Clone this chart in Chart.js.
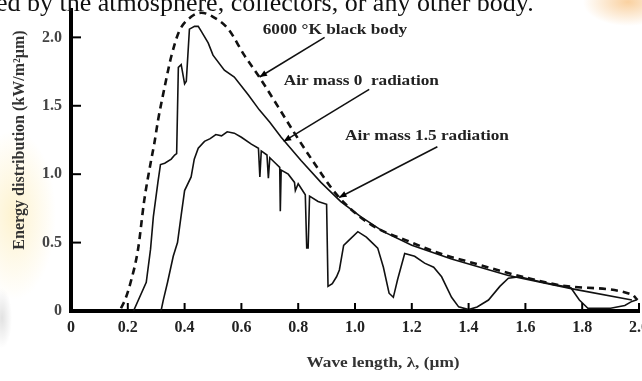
<!DOCTYPE html>
<html>
<head>
<meta charset="utf-8">
<title>Solar spectral irradiance</title>
<script src="https://cdn.jsdelivr.net/npm/chart.js@4.4.1/dist/chart.umd.min.js"></script>
<style>
  html, body { margin: 0; padding: 0; background: #fff; }
  #wrap {
    position: relative; width: 642px; height: 381px; overflow: hidden;
    background:
      radial-gradient(ellipse 45px 24px at 628px 2px, rgba(246,178,96,.6), rgba(246,178,96,0)),
      radial-gradient(ellipse 42px 85px at 14px 215px, rgba(252,228,150,.45), rgba(252,228,150,0)),
      radial-gradient(ellipse 10px 30px at 2px 318px, rgba(190,190,190,.45), rgba(190,190,190,0)),
      #fff;
  }
  #pageText {
    position: absolute; left: -4px; top: -12px;
    font: 26px "Liberation Serif", serif; color: #111; white-space: nowrap;
  }
  canvas { position: absolute; left: 0; top: 0; }
</style>
</head>
<body>
<div id="wrap">
  <canvas id="chart" width="642" height="381"></canvas>
  <div id="pageText">ed by the atmosphere, collectors, or any other body.</div>
</div>
<script>
/* ─── data ─────────────────────────────────────────────────── */
const BB_X = [0.176, 0.19, 0.21, 0.236, 0.258, 0.282, 0.293, 0.307, 0.33, 0.342, 0.353, 0.38, 0.423, 0.459,
              0.50, 0.554, 0.61, 0.663, 0.73, 0.787, 0.847, 0.94, 1.05, 1.20, 1.30, 1.40, 1.59, 1.75, 1.975, 1.995];
const BB_Y = [0.02, 0.08, 0.21, 0.45, 0.81, 1.10, 1.22, 1.40, 1.64, 1.76, 1.86, 2.04, 2.15, 2.18,
              2.15, 2.06, 1.87, 1.71, 1.49, 1.30, 1.11, 0.84, 0.64, 0.50, 0.42, 0.36, 0.25, 0.18, 0.12, 0.08];

const AM0_X = [0.22, 0.265, 0.28, 0.29, 0.306, 0.315, 0.33, 0.353, 0.365, 0.372, 0.378, 0.388, 0.40, 0.406,
               0.417, 0.435, 0.448, 0.46, 0.483, 0.50, 0.54, 0.575, 0.624, 0.663, 0.70, 0.74, 0.81, 0.88,
               0.95, 1.02, 1.10, 1.20, 1.34, 1.54, 1.77, 1.975];
const AM0_Y = [0, 0.21, 0.45, 0.69, 0.94, 1.07, 1.08, 1.11, 1.14, 1.15, 1.78, 1.80, 1.66, 1.68,
               2.06, 2.08, 2.08, 2.04, 1.96, 1.87, 1.76, 1.71, 1.58, 1.47, 1.38, 1.27, 1.10, 0.94,
               0.80, 0.69, 0.58, 0.48, 0.38, 0.26, 0.16, 0.08];

const AM15_X = [0.317, 0.325, 0.34, 0.36, 0.375, 0.388, 0.40, 0.423, 0.434, 0.448, 0.47, 0.49, 0.51, 0.53,
                0.55, 0.575, 0.60, 0.635, 0.66, 0.665, 0.67, 0.69, 0.695, 0.70, 0.72, 0.735, 0.737, 0.74,
                0.765, 0.787, 0.79, 0.80, 0.825, 0.83, 0.835, 0.84, 0.87, 0.90, 0.905, 0.92, 0.935, 0.945,
                0.96, 0.98, 1.01, 1.04, 1.06, 1.08, 1.10, 1.12, 1.135, 1.15, 1.175, 1.21, 1.245, 1.277,
                1.305, 1.34, 1.365, 1.40, 1.43, 1.47, 1.51, 1.54, 1.58, 1.66, 1.76, 1.79, 1.82, 1.90,
                1.95, 1.975, 1.99];
const AM15_Y = [0, 0.08, 0.21, 0.40, 0.50, 0.70, 0.88, 0.98, 1.11, 1.19, 1.24, 1.26, 1.29, 1.28,
                1.31, 1.30, 1.27, 1.22, 1.19, 0.98, 1.17, 1.14, 0.97, 1.12, 1.08, 1.05, 0.73, 1.03,
                1.00, 0.94, 0.88, 0.93, 0.85, 0.46, 0.46, 0.84, 0.80, 0.78, 0.18, 0.20, 0.25, 0.30,
                0.48, 0.52, 0.58, 0.54, 0.50, 0.46, 0.32, 0.13, 0.10, 0.23, 0.42, 0.40, 0.35, 0.32,
                0.25, 0.10, 0.03, 0.01, 0.03, 0.08, 0.18, 0.24, 0.25, 0.21, 0.17, 0.08, 0.02, 0.02,
                0.04, 0.07, 0.08];

const SERIES_LABELS = ['6000 °K black body', 'Air mass 0  radiation', 'Air mass 1.5 radiation'];

const X_TICKS = [0, 0.2, 0.4, 0.6, 0.8, 1.0, 1.2, 1.4, 1.6, 1.8, 2.0];
const X_TICK_LABELS = ['0', '0.2', '0.4', '0.6', '0.8', '1.0', '1.2', '1.4', '1.6', '1.8', '2.0'];
const Y_TICKS = [0, 0.5, 1.0, 1.5, 2.0];
const Y_TICK_LABELS = ['0', '0.5', '1.0', '1.5', '2.0'];

const X_TITLE = 'Wave length, λ, (µm)';
const Y_TITLE = 'Energy distribution (kW/m²µm)';

// label anchors and leader arrows, in data units
const NOTES = [
  { text: SERIES_LABELS[0], x: 0.675, y: 2.05, from: [0.893, 2.00], to: [0.664, 1.71] },
  { text: SERIES_LABELS[1], x: 0.749, y: 1.68, from: [1.05, 1.62],  to: [0.749, 1.24] },
  { text: SERIES_LABELS[2], x: 0.965, y: 1.28, from: [1.29, 1.20],  to: [0.944, 0.83] },
];

const SERIF = '"Liberation Serif", "DejaVu Serif", serif';
const pts = (xs, ys) => xs.map((x, i) => ({ x, y: ys[i] }));

/* ─── extra drawing: inward ticks, labels, arrows, titles ──── */
function stretchedText(ctx, text, x, y, sx) {
  ctx.save();
  ctx.translate(x, y);
  ctx.scale(sx, 1);
  ctx.fillText(text, 0, 0);
  ctx.restore();
}

const decorPlugin = {
  id: 'decor',
  afterDraw(chart) {
    const { ctx, chartArea: ca, scales: { x, y } } = chart;
    ctx.save();
    ctx.strokeStyle = '#000';
    ctx.fillStyle = '#000';
    ctx.lineWidth = 2;

    // tick marks point into the plot
    X_TICKS.forEach(v => {
      if (v === 0) return;
      const px = x.getPixelForValue(v);
      ctx.beginPath(); ctx.moveTo(px, ca.bottom); ctx.lineTo(px, ca.bottom - 8); ctx.stroke();
    });
    Y_TICKS.forEach(v => {
      if (v === 0) return;
      const py = y.getPixelForValue(v);
      ctx.beginPath(); ctx.moveTo(ca.left, py); ctx.lineTo(ca.left + 10, py); ctx.stroke();
    });

    // series labels with leader arrows
    ctx.font = 'bold 15px ' + SERIF;
    ctx.textBaseline = 'middle';
    ctx.textAlign = 'left';
    NOTES.forEach(n => {
      ctx.fillStyle = '#222';
      stretchedText(ctx, n.text, x.getPixelForValue(n.x), y.getPixelForValue(n.y), 1.15);
      const x0 = x.getPixelForValue(n.from[0]), y0 = y.getPixelForValue(n.from[1]);
      const x1 = x.getPixelForValue(n.to[0]),   y1 = y.getPixelForValue(n.to[1]);
      ctx.strokeStyle = '#111'; ctx.lineWidth = 1.6;
      ctx.beginPath(); ctx.moveTo(x0, y0); ctx.lineTo(x1, y1); ctx.stroke();
      const a = Math.atan2(y1 - y0, x1 - x0);
      ctx.fillStyle = '#000';
      ctx.beginPath();
      ctx.moveTo(x1, y1);
      ctx.lineTo(x1 - 8 * Math.cos(a - 0.4), y1 - 8 * Math.sin(a - 0.4));
      ctx.lineTo(x1 - 8 * Math.cos(a + 0.4), y1 - 8 * Math.sin(a + 0.4));
      ctx.closePath(); ctx.fill();
    });

    // axis titles
    ctx.fillStyle = '#333';
    ctx.textAlign = 'center';
    ctx.font = 'bold 15px ' + SERIF;
    stretchedText(ctx, X_TITLE, 383, 363, 1.15);

    ctx.font = 'bold 16px ' + SERIF;
    ctx.save();
    ctx.translate(20, 140);
    ctx.rotate(-Math.PI / 2);
    ctx.fillText(Y_TITLE, 0, 0);
    ctx.restore();

    ctx.restore();
  }
};

/* ─── chart ───────────────────────────────────────────────── */
new Chart(document.getElementById('chart'), {
  type: 'line',
  data: {
    datasets: [
      { label: SERIES_LABELS[0], data: pts(BB_X, BB_Y),
        borderColor: '#111', borderWidth: 2.6, borderDash: [7, 5], cubicInterpolationMode: 'monotone', pointRadius: 0 },
      { label: SERIES_LABELS[1], data: pts(AM0_X, AM0_Y),
        borderColor: '#111', borderWidth: 1.6, tension: 0, pointRadius: 0 },
      { label: SERIES_LABELS[2], data: pts(AM15_X, AM15_Y),
        borderColor: '#111', borderWidth: 1.6, tension: 0, pointRadius: 0 },
    ],
  },
  options: {
    responsive: false, animation: false,
    layout: { autoPadding: false, padding: { top: 10, right: 3, left: 0, bottom: 0 } },
    plugins: { legend: { display: false }, tooltip: { enabled: false } },
    scales: {
      x: {
        type: 'linear', min: 0, max: 2.0,
        grid: { display: false, drawTicks: false },
        border: { display: true, color: '#000', width: 4 },
        afterBuildTicks: s => { s.ticks = X_TICKS.map(v => ({ value: v })); },
        afterFit: s => { s.height = 70; s.paddingLeft = 0; s.paddingRight = 0; },
        ticks: {
          autoSkip: false, maxRotation: 0, padding: 7, color: '#222',
          font: { family: SERIF, size: 16, weight: 'bold' },
          callback: (v, i) => X_TICK_LABELS[i],
        },
      },
      y: {
        type: 'linear', min: 0, max: 2.2,
        grid: { display: false, drawTicks: false },
        border: { display: true, color: '#000', width: 4 },
        afterBuildTicks: s => { s.ticks = Y_TICKS.map(v => ({ value: v })); },
        afterFit: s => { s.width = 71; s.paddingTop = 0; s.paddingBottom = 0; },
        ticks: {
          padding: 9, color: '#444',
          font: { family: SERIF, size: 16, weight: 'bold' },
          callback: (v, i) => Y_TICK_LABELS[i],
        },
      },
    },
  },
  plugins: [decorPlugin],
});
</script>
</body>
</html>
